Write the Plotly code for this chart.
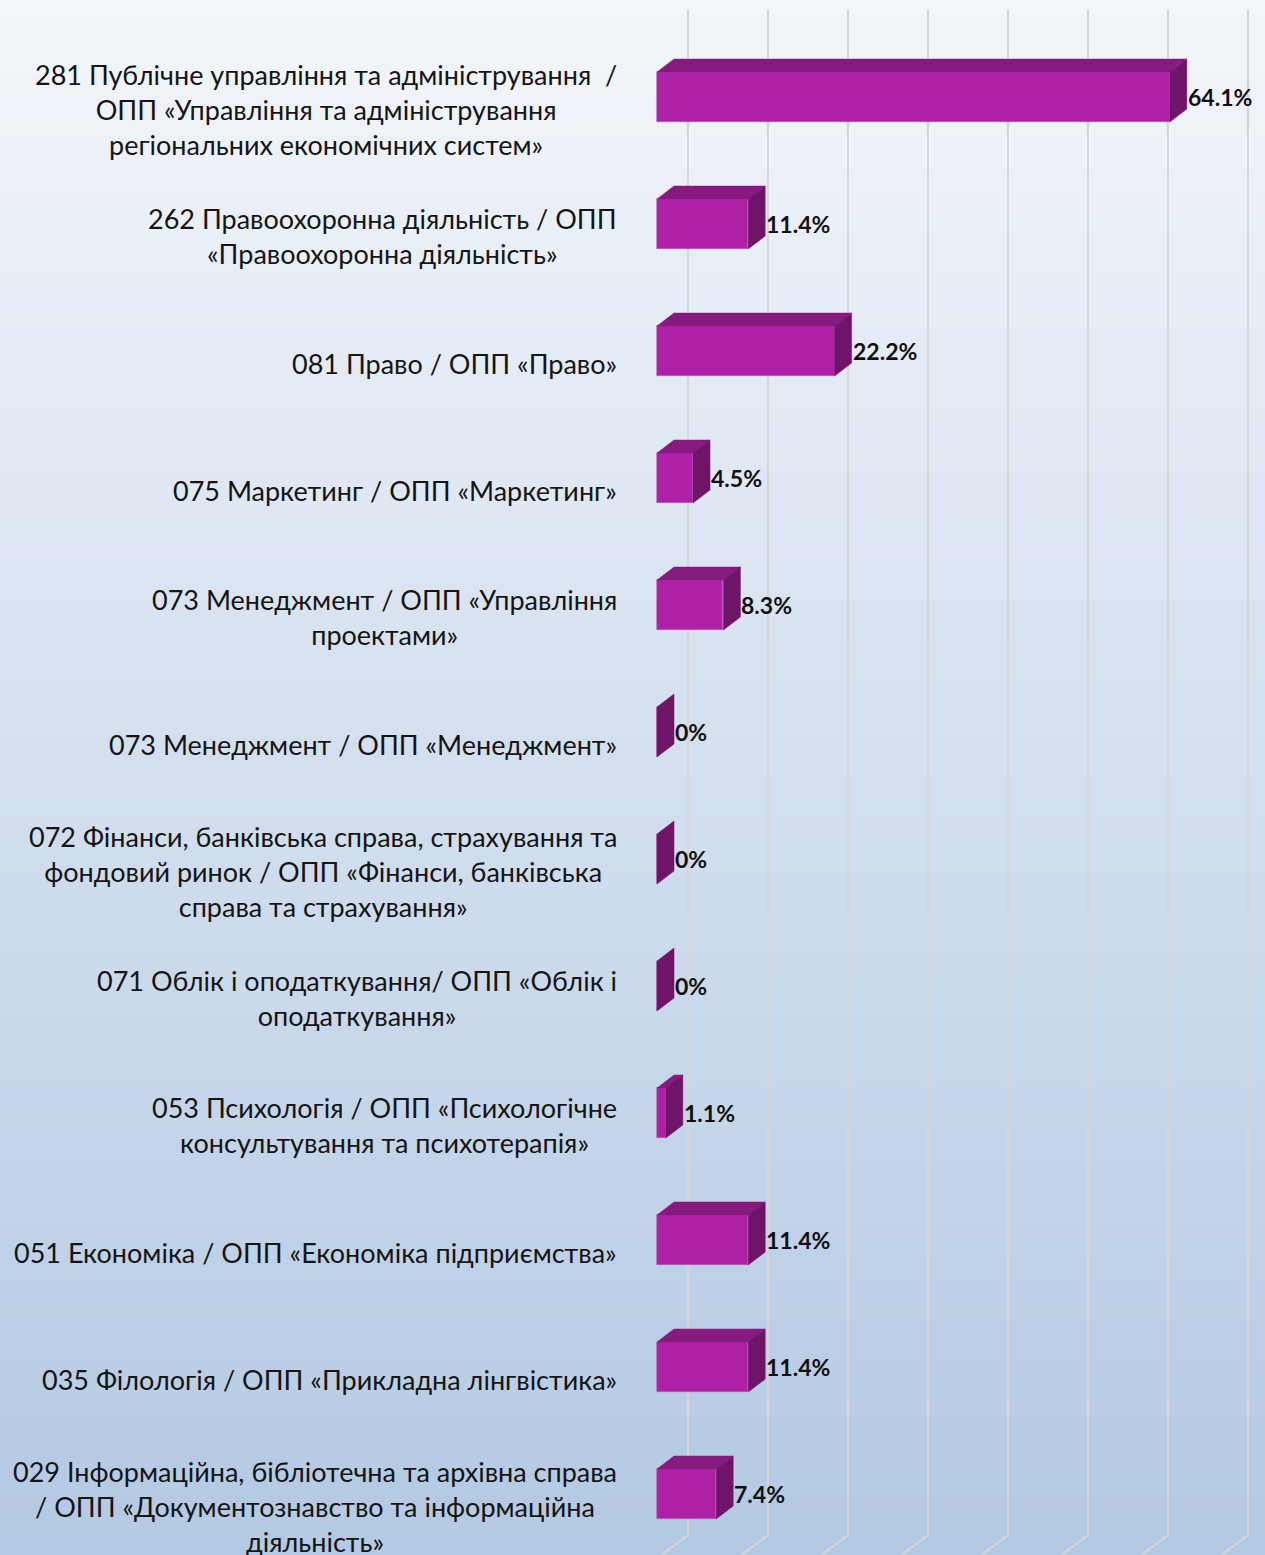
import plotly.graph_objects as go

categories = [
    "281 Публічне управління та адміністрування  /<br>ОПП «Управління та адміністрування<br>регіональних економічних систем»",
    "262 Правоохоронна діяльність / ОПП<br>«Правоохоронна діяльність»",
    "081 Право / ОПП «Право»",
    "075 Маркетинг / ОПП «Маркетинг»",
    "073 Менеджмент / ОПП «Управління<br>проектами»",
    "073 Менеджмент / ОПП «Менеджмент»",
    "072 Фінанси, банківська справа, страхування та<br>фондовий ринок / ОПП «Фінанси, банківська<br>справа та страхування»",
    "071 Облік і оподаткування/ ОПП «Облік і<br>оподаткування»",
    "053 Психологія / ОПП «Психологічне<br>консультування та психотерапія»",
    "051 Економіка / ОПП «Економіка підприємства»",
    "035 Філологія / ОПП «Прикладна лінгвістика»",
    "029 Інформаційна, бібліотечна та архівна справа<br>/ ОПП «Документознавство та інформаційна<br>діяльність»",
]
values = [64.1, 11.4, 22.2, 4.5, 8.3, 0, 0, 0, 1.1, 11.4, 11.4, 7.4]
value_labels = ["64.1%", "11.4%", "22.2%", "4.5%", "8.3%", "0%", "0%", "0%", "1.1%", "11.4%", "11.4%", "7.4%"]
grid_values = [10 * k for k in range(8)]

W, H = 1265, 1555
FRONT = "#AE20A6"
TOP = "#861A7E"
SIDE = "#6E1568"
FONT = "Lato, 'Noto Sans', sans-serif"

# geometry (data units)
DX = 2.125      # 3D depth, horizontal
DY = 0.102      # 3D depth, vertical
BH = 0.394      # front face height
GRID_SHIFT = 3.875

n = len(categories)
ys = list(range(n))

fig = go.Figure()

# front faces
fig.add_trace(go.Bar(
    x=values, y=ys, base=0, orientation="h", width=BH,
    marker=dict(color=FRONT, line=dict(color="#C65CBF", width=0.6)),
    hoverinfo="skip", showlegend=False,
))

# top and side faces
for y, v in zip(ys, values):
    top = y - BH / 2
    bot = y + BH / 2
    if v > 0:
        fig.add_trace(go.Scatter(
            x=[0, v, v + DX, DX, 0], y=[top, top, top - DY, top - DY, top],
            fill="toself", fillcolor=TOP, mode="lines",
            line=dict(color=TOP, width=0.5), hoverinfo="skip", showlegend=False))
    fig.add_trace(go.Scatter(
        x=[v, v + DX, v + DX, v, v], y=[top, top - DY, bot - DY, bot, top],
        fill="toself", fillcolor=SIDE, mode="lines",
        line=dict(color=SIDE, width=0.5), hoverinfo="skip", showlegend=False))

shapes = []
# background gradient bands
top_c = (243, 246, 250)
bot_c = (180, 201, 227)
NB = 80
for k in range(NB):
    t = k / (NB - 1)
    c = tuple(round(top_c[j] + (bot_c[j] - top_c[j]) * t) for j in range(3))
    shapes.append(dict(type="rect", xref="paper", yref="paper",
                       x0=0, x1=1, y0=1 - (k + 1) / NB, y1=1 - k / NB + 0.001,
                       fillcolor="rgb(%d,%d,%d)" % c, line=dict(width=0), layer="below"))

# gridlines (back wall + floor bend)
y_top = 1 - 10 / H
y_bend = 1 - 1535 / H
for g in grid_values:
    xg = g + GRID_SHIFT
    shapes.append(dict(type="path", xref="x", yref="paper",
                       path=f"M {xg},{y_top} L {xg},{y_bend} L {xg - 3.3},0",
                       line=dict(color="#D6D6D6", width=2), layer="below"))

annotations = []
for y, v, lab in zip(ys, values, value_labels):
    annotations.append(dict(x=v + DX, y=y, xref="x", yref="y", text=f"<b>{lab}</b>",
                            showarrow=False, xanchor="left", yanchor="middle",
                            xshift=-1,
                            font=dict(family=FONT, size=23, color="#111111")))
for y, cat in zip(ys, categories):
    annotations.append(dict(x=619 / W, y=y, xref="paper", yref="y", text=cat,
                            showarrow=False, xanchor="right", yanchor="middle",
                            align="center", yshift=-12,
                            font=dict(family=FONT, size=27, color="#151515")))

x0 = -657 / 8
x1 = x0 + W / 8
y_top_data = -97 / 127
y_bot_data = (H - 97) / 127

fig.update_layout(
    width=W, height=H,
    margin=dict(l=0, r=0, t=0, b=0),
    paper_bgcolor="rgb(243,246,250)",
    plot_bgcolor="rgba(0,0,0,0)",
    xaxis=dict(range=[x0, x1], domain=[0, 1], showgrid=False, zeroline=False,
               showticklabels=False, fixedrange=True),
    yaxis=dict(range=[y_bot_data, y_top_data], domain=[0, 1], showgrid=False,
               zeroline=False, showticklabels=False, fixedrange=True),
    shapes=shapes,
    annotations=annotations,
    bargap=0,
)

fig.write_html("out.html", config={"displayModeBar": False},
               post_script="document.body.style.margin='0';document.body.style.overflow='hidden';")
